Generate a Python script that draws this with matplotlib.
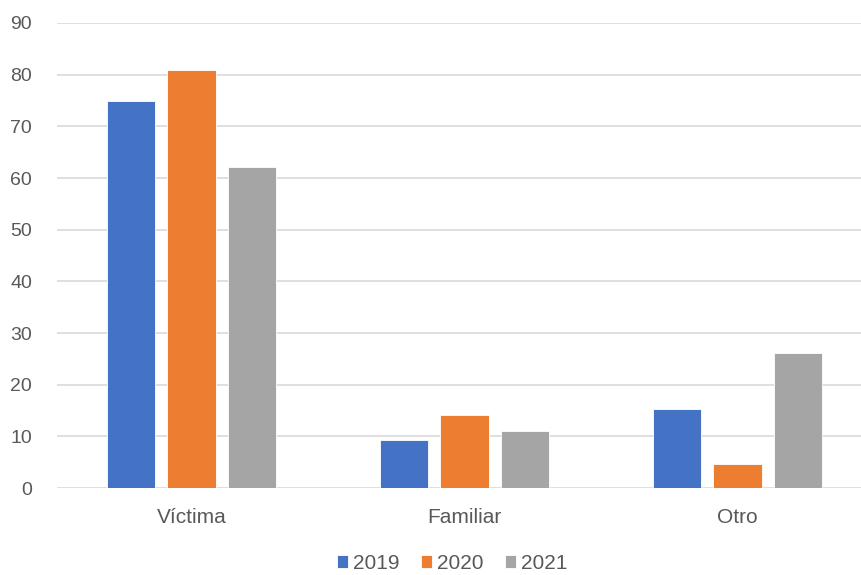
import matplotlib.pyplot as plt
import numpy as np

plt.rcParams['font.family'] = ['Liberation Sans', 'DejaVu Sans']

categories = ["Víctima", "Familiar", "Otro"]
years = ["2019", "2020", "2021"]
values_2019 = [75.0, 9.4, 15.4]
values_2020 = [81.0, 14.1, 4.7]
values_2021 = [62.1, 11.1, 26.1]
colors = ["#4472C4", "#ED7D31", "#A5A5A5"]

text_col = "#595959"

fig = plt.figure(figsize=(8.62, 5.75), dpi=100)
ax = fig.add_axes([0.066, 0.151, 0.934, 0.809])

x = np.arange(len(categories))
width = 0.176
step = 0.222
for i, (vals, yr) in enumerate(zip([values_2019, values_2020, values_2021], years)):
    ax.bar(x + (i - 1) * step, vals, width, color=colors[i], label=yr,
           edgecolor="white", linewidth=0.6, zorder=3)

ax.set_xlim(-0.493, 2.456)
ax.set_ylim(0, 90)
ax.set_yticks(range(0, 91, 10))
ax.set_xticks(x)
ax.set_xticklabels(categories)
ax.grid(axis="y", color="#D9D9D9", linewidth=1.2, zorder=0)
for s in ax.spines.values():
    s.set_visible(False)
ax.tick_params(axis="x", length=0, labelsize=15, colors=text_col, pad=14)
ax.tick_params(axis="y", length=0, labelsize=14, colors=text_col, pad=18)

leg = ax.legend(loc="center", bbox_to_anchor=(0.491, -0.162), ncol=3, frameon=False,
                fontsize=15, labelcolor=text_col, handlelength=0.55, handleheight=0.55,
                handletextpad=0.25, columnspacing=1.0, borderpad=0.1)

fig.savefig("out.png", dpi=100)
